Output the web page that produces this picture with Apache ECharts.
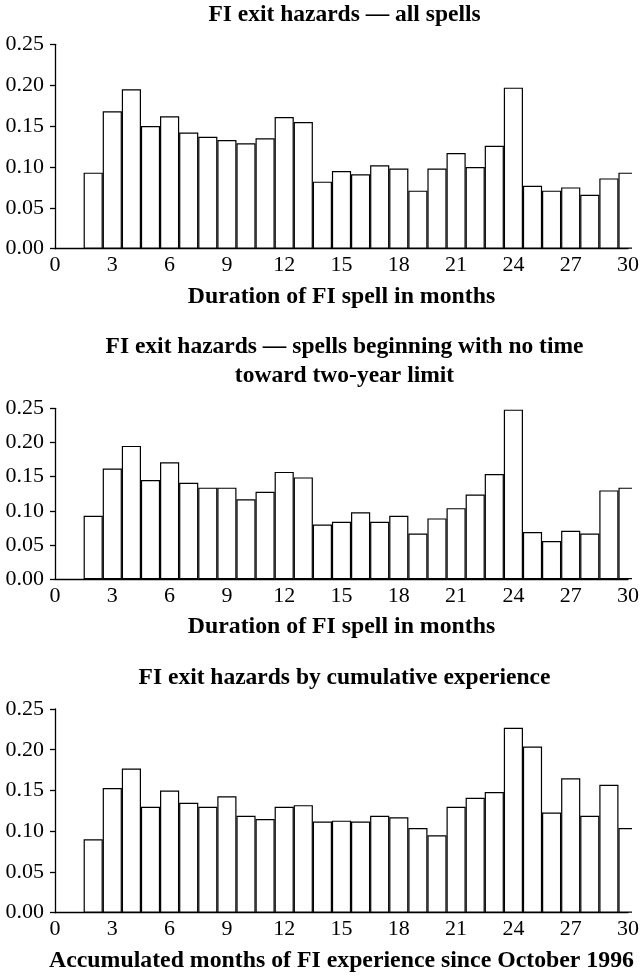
<!DOCTYPE html>
<html><head><meta charset="utf-8">
<script src="https://cdn.jsdelivr.net/npm/echarts@6/dist/echarts.min.js"></script>
<style>html,body{margin:0;padding:0;background:#fff}#c{width:642px;height:977px}</style>
</head><body><div id="c"></div>
<script>
const months = [2,3,4,5,6,7,8,9,10,11,12,13,14,15,16,17,18,19,20,21,22,23,24,25,26,27,28,29,30];
const allSpells = [0.093,0.168,0.195,0.150,0.162,0.142,0.137,0.133,0.129,0.135,0.161,0.155,0.082,0.095,0.091,0.102,0.098,0.071,0.098,0.117,0.100,0.126,0.197,0.077,0.071,0.075,0.066,0.086,0.093];
const noTimeSpells = [0.093,0.162,0.195,0.145,0.171,0.141,0.134,0.134,0.117,0.128,0.157,0.149,0.080,0.084,0.098,0.084,0.093,0.067,0.089,0.104,0.124,0.154,0.248,0.069,0.056,0.071,0.067,0.130,0.134];
const cumulative = [0.090,0.153,0.177,0.130,0.150,0.135,0.130,0.143,0.119,0.115,0.130,0.132,0.112,0.113,0.112,0.119,0.117,0.104,0.095,0.130,0.141,0.148,0.227,0.204,0.123,0.165,0.119,0.157,0.104];
const xTickStep = 3;
const yTickStep = 0.05;
const panelTitles = [
  ["FI exit hazards \u2014 all spells"],
  ["FI exit hazards \u2014 spells beginning with no time", "toward two-year limit"],
  ["FI exit hazards by cumulative experience"]
];
const xNames = ["Duration of FI spell in months", "Duration of FI spell in months", "Accumulated months of FI experience since October 1996"];
const seriesData = [allSpells, noTimeSpells, cumulative];

const chart = echarts.init(document.getElementById('c'), null, {renderer: 'canvas'});
const gridLeft = 55, gridWidth = 575;
const grids = [
  {top: 44.3, height: 204.4},
  {top: 408.3, height: 171},
  {top: 709, height: 203.7}
];
const serif = '"Liberation Serif", "Times New Roman", serif';
const titleY = [[15], [346.7, 375.5], [678.3]];
const graphics = [];
panelTitles.forEach((lines, i) => {
  lines.forEach((t, j) => {
    graphics.push({type: 'text', x: gridLeft + gridWidth / 2 + 2, y: titleY[i][j],
      style: {text: t, fontFamily: serif, fontWeight: 'bold', fontSize: 23.5, fill: '#000', textAlign: 'center', textVerticalAlign: 'middle'}});
  });
});
// mask: clip the half bar that runs past the right end of each plot
grids.forEach(g => {
  graphics.push({type: 'rect', z: 100, shape: {x: gridLeft + gridWidth + 2, y: g.top - 10, width: 20, height: g.height + 12},
    style: {fill: '#fff'}});
});

const option = {
  animation: false,
  backgroundColor: '#fff',
  graphic: graphics,
  grid: grids.map(g => ({left: gridLeft, width: gridWidth, top: g.top, height: g.height, containLabel: false})),
  xAxis: grids.map((g, i) => ({
    type: 'value', gridIndex: i, min: 0, max: 30, interval: xTickStep,
    axisLine: {show: true, lineStyle: {color: '#000', width: 1.3}},
    axisTick: {show: false},
    splitLine: {show: false},
    axisLabel: {fontFamily: serif, fontSize: 22, color: '#000', margin: 6},
    name: xNames[i], nameLocation: 'middle', nameGap: 36,
    nameTextStyle: {fontFamily: serif, fontWeight: 'bold', fontSize: 23.8, color: '#000'}
  })),
  yAxis: grids.map((g, i) => ({
    type: 'value', gridIndex: i, min: 0, max: 0.25, interval: yTickStep,
    axisLine: {show: true, lineStyle: {color: '#000', width: 1.3}},
    axisTick: {show: true, length: 5, lineStyle: {color: '#000', width: 1.3}},
    splitLine: {show: false},
    axisLabel: {fontFamily: serif, fontSize: 22, color: '#000', margin: 11, formatter: v => v.toFixed(2)}
  })),
  series: seriesData.map((vals, i) => ({
    type: 'bar', xAxisIndex: i, yAxisIndex: i,
    data: months.map((m, k) => [m, vals[k]]),
    barWidth: gridWidth / 30,
    clip: true,
    itemStyle: {color: '#fff', borderColor: '#000', borderWidth: 1.2}
  }))
};
chart.setOption(option);
</script></body></html>
